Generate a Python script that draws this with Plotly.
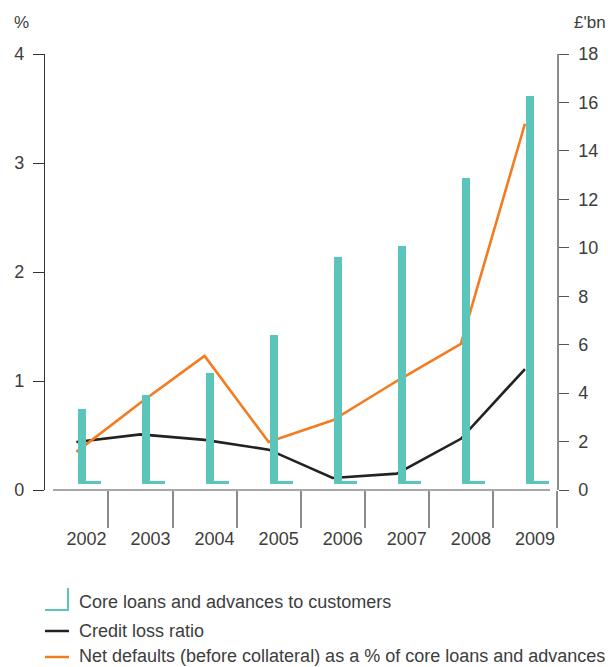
import plotly.graph_objects as go

# Core loans (right axis, £bn) and two ratios (left axis, %)
years = ["2002", "2003", "2004", "2005", "2006", "2007", "2008", "2009"]
core_loans_bn = [3.34, 3.92, 4.83, 6.40, 9.62, 10.07, 12.88, 16.27]
credit_loss_ratio = [0.44, 0.51, 0.46, 0.37, 0.11, 0.15, 0.47, 1.11]
net_defaults_pct = [0.35, 0.80, 1.23, 0.44, 0.64, 1.00, 1.34, 3.36]

left_ticks = [0, 1, 2, 3, 4]
right_ticks = [0, 2, 4, 6, 8, 10, 12, 14, 16, 18]

legend_labels = [
    "Core loans and advances to customers",
    "Credit loss ratio",
    "Net defaults (before collateral) as a % of core loans and advances",
]

TEAL = "#5bc5bc"
BLACK = "#222222"
ORANGE = "#f47c20"
TEXT = "#3d3d3d"
FONT = "Liberation Sans, Arial, sans-serif"

W, H = 611, 667
L, R, T, B = 45, 557, 54, 490  # plot area in pixels


def px(x):
    return (x - L) / (R - L)


def py(y):
    return (B - y) / (B - T)


bar_base = 0.25    # bars sit slightly above the axis
foot_height = 0.12
bar_width = 0.125
foot_width = 0.36
bar_offset = 0.02

fig = go.Figure()

# vertical stems of the bars
fig.add_trace(go.Bar(
    x=years, y=[v - bar_base for v in core_loans_bn], base=[bar_base] * len(years),
    width=bar_width, offset=bar_offset, marker=dict(color=TEAL, line=dict(width=0)),
    yaxis="y2", showlegend=False, hoverinfo="skip",
))
# small foot at the base of each bar
fig.add_trace(go.Bar(
    x=years, y=[foot_height] * len(years), base=[bar_base] * len(years),
    width=foot_width, offset=bar_offset, marker=dict(color=TEAL, line=dict(width=0)),
    yaxis="y2", showlegend=False, hoverinfo="skip",
))

fig.add_trace(go.Scatter(
    x=years, y=credit_loss_ratio, mode="lines",
    line=dict(color=BLACK, width=2.6), showlegend=False,
))
fig.add_trace(go.Scatter(
    x=years, y=net_defaults_pct, mode="lines",
    line=dict(color=ORANGE, width=2.6), showlegend=False,
))

shapes = [
    # horizontal baseline, detached from both vertical axes
    dict(type="line", xref="paper", yref="paper", x0=px(53), x1=px(550), y0=0, y1=0,
         line=dict(color="#8a8a8a", width=1.5)),
    # legend symbols
    dict(type="line", xref="paper", yref="paper", x0=px(68), x1=px(68), y0=py(588), y1=py(611),
         line=dict(color=TEAL, width=2)),
    dict(type="line", xref="paper", yref="paper", x0=px(45), x1=px(69), y0=py(610), y1=py(610),
         line=dict(color=TEAL, width=2)),
    dict(type="line", xref="paper", yref="paper", x0=px(45), x1=px(69), y0=py(631), y1=py(631),
         line=dict(color=BLACK, width=2.5)),
    dict(type="line", xref="paper", yref="paper", x0=px(45), x1=px(69), y0=py(657), y1=py(657),
         line=dict(color=ORANGE, width=2.5)),
]

annotations = [
    dict(text="%", xref="paper", yref="paper", x=px(21), y=py(22), showarrow=False,
         xanchor="center", yanchor="middle", font=dict(size=17, color=TEXT, family=FONT)),
    dict(text="£'bn", xref="paper", yref="paper", x=px(590), y=py(22), showarrow=False,
         xanchor="center", yanchor="middle", font=dict(size=17, color=TEXT, family=FONT)),
]
for label, yc in zip(legend_labels, [602, 631, 656]):
    annotations.append(dict(
        text=label, xref="paper", yref="paper", x=px(78), y=py(yc), showarrow=False,
        xanchor="left", yanchor="middle", borderpad=0,
        font=dict(size=18, color=TEXT, family=FONT),
    ))

fig.update_layout(
    width=W, height=H,
    margin=dict(l=L, r=W - R, t=T, b=H - B, pad=0),
    paper_bgcolor="white", plot_bgcolor="white",
    barmode="overlay", bargap=0,
    showlegend=False,
    font=dict(family=FONT, size=18, color=TEXT),
    shapes=shapes, annotations=annotations,
    xaxis=dict(
        type="category", range=[-0.49, 7.5], tickson="boundaries",
        ticks="outside", ticklen=37, tickwidth=1.5, tickcolor="#8a8a8a",
        showline=False, showgrid=False, zeroline=False,
        ticklabelshift=10, ticklabelstandoff=36,
        tickfont=dict(size=18, color=TEXT, family=FONT),
    ),
    yaxis=dict(
        range=[0, 4], tickvals=left_ticks, ticks="outside", ticklen=11,
        tickwidth=1.2, tickcolor="#333333", ticklabelstandoff=5,
        showline=True, linecolor="#333333", linewidth=1.2,
        showgrid=False, zeroline=False,
        tickfont=dict(size=18, color=TEXT, family=FONT),
    ),
    yaxis2=dict(
        range=[0, 18], tickvals=right_ticks, overlaying="y", side="right",
        ticks="outside", ticklen=10, tickwidth=1.2, tickcolor="#555555",
        ticklabelstandoff=6,
        showline=True, linecolor="#8a8a8a", linewidth=1.5,
        showgrid=False, zeroline=False,
        tickfont=dict(size=18, color=TEXT, family=FONT),
    ),
)

fig.write_html("out.html")
